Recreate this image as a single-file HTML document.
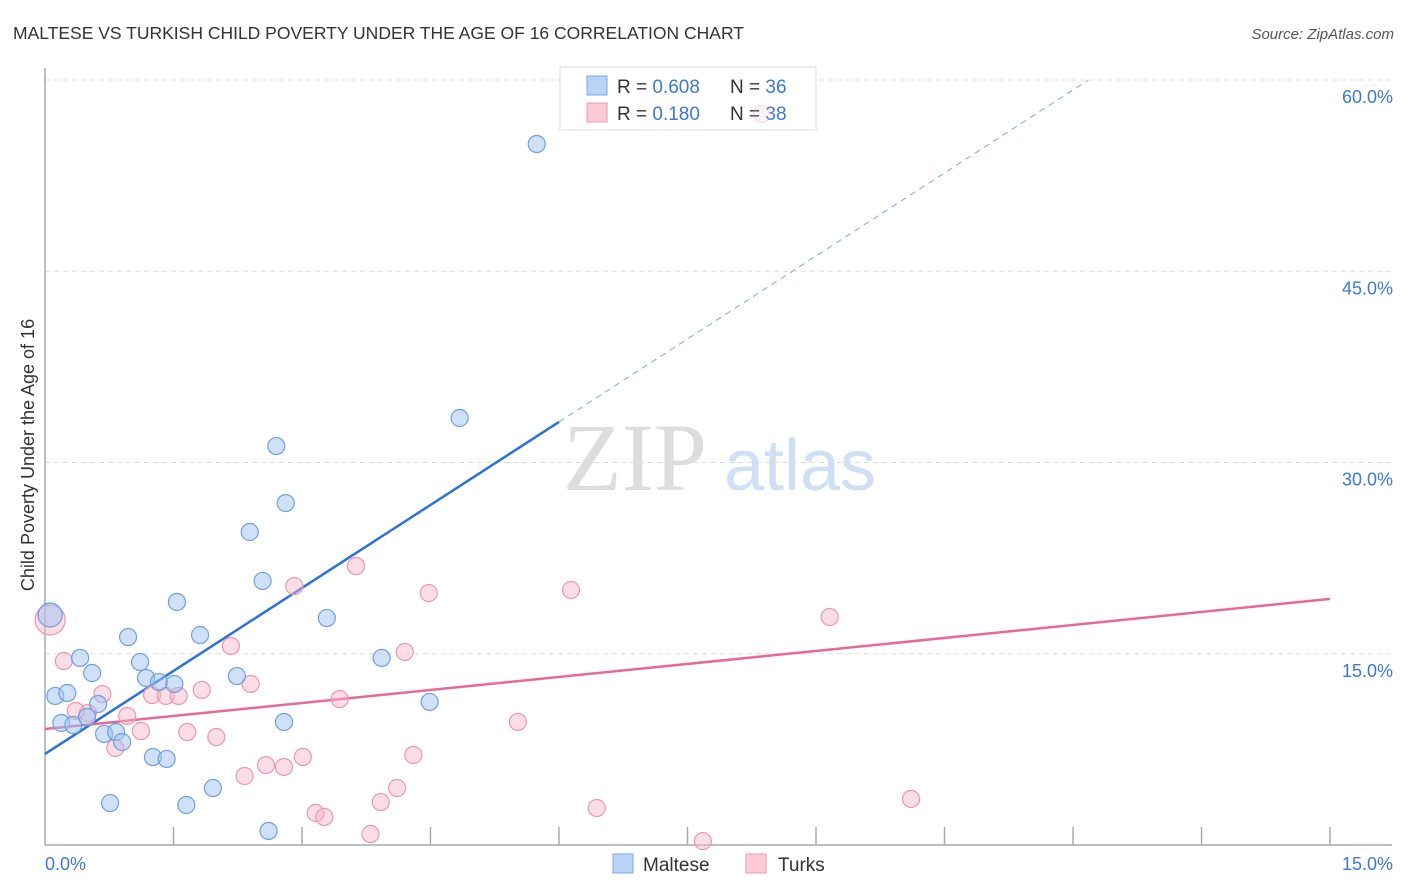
<!DOCTYPE html>
<html><head><meta charset="utf-8">
<style>
body{margin:0;background:#fff;font-family:"Liberation Sans",sans-serif;}
svg{display:block}
</style></head>
<body>
<svg width="1406" height="892" viewBox="0 0 1406 892">
<text x="13" y="39" font-size="17.5" fill="#333">MALTESE VS TURKISH CHILD POVERTY UNDER THE AGE OF 16 CORRELATION CHART</text>
<text x="1394" y="39" font-size="15" fill="#555" font-style="italic" text-anchor="end">Source: ZipAtlas.com</text>
<g>
<text x="635" y="490" font-size="96" fill="#ddd" font-family="Liberation Serif,serif" text-anchor="middle">ZIP</text>
<text x="800" y="490" font-size="72" fill="#cfe0f5" text-anchor="middle">atlas</text>
</g>
<g id="grid"></g>
<g id="axes"></g>
<g id="lines"></g>
<g>
<rect x="560" y="67" width="256" height="63" fill="#fff" stroke="#ddd"/>
<rect x="587" y="76" width="20" height="19" fill="#b8d3f5" stroke="#7aa7e6"/>
<text x="617" y="93" font-size="19" fill="#333">R = <tspan fill="#3c78d8">0.608</tspan></text>
<text x="730" y="93" font-size="19" fill="#333">N = <tspan fill="#3c78d8">36</tspan></text>
<rect x="587" y="103" width="20" height="19" fill="#fbcbd8" stroke="#ee9ab3"/>
<text x="617" y="120" font-size="19" fill="#333">R = <tspan fill="#3c78d8"> 0.180</tspan></text>
<text x="730" y="120" font-size="19" fill="#333">N = <tspan fill="#3c78d8">38</tspan></text>
</g>
<g id="points" opacity="1"></g>
<text transform="translate(34,455) rotate(-90)" font-size="18" fill="#333" text-anchor="middle">Child Poverty Under the Age of 16</text>
<g>
<rect x="613" y="854" width="20" height="19" fill="#b8d3f5" stroke="#7aa7e6"/>
<text x="643" y="871" font-size="19" fill="#333">Maltese</text>
<rect x="746" y="854" width="20" height="19" fill="#fbcbd8" stroke="#ee9ab3"/>
<text x="778" y="871" font-size="19" fill="#333">Turks</text>
</g>
</svg>
<script>
const yTicks=[15,30,45,60];
const yTickLabels=["15.0%","30.0%","45.0%","60.0%"];
const xTickCount=[0,1.5,3,4.5,6,7.5,9,10.5,12,13.5,15];
const xLabels=["0.0%","15.0%"];
const malteseX=[0.06,0.12,0.26,0.19,0.33,0.41,0.55,0.49,0.62,0.69,0.83,0.90,0.76,0.97,1.11,1.18,1.26,1.33,1.42,1.51,1.54,1.65,1.81,1.96,2.24,2.39,2.54,2.61,2.70,2.79,2.81,3.29,3.93,4.49,4.84,5.74];
const malteseY=[18.04,11.69,11.92,9.57,9.41,14.67,13.49,10.04,11.06,8.71,8.86,8.08,3.29,16.31,14.35,13.10,6.90,12.78,6.75,12.63,19.06,3.14,16.47,4.47,13.25,24.55,20.71,1.10,31.29,9.65,26.82,17.80,14.67,11.22,33.49,54.98];
const turksX=[0.06,0.22,0.50,0.67,0.36,0.82,0.96,1.12,1.25,1.41,1.56,1.66,1.83,2.00,2.17,2.33,2.40,2.58,2.79,2.91,3.01,3.16,3.26,3.44,3.63,3.80,3.92,4.11,4.20,4.30,4.48,5.52,6.14,6.44,7.68,8.37,9.16,10.11];
const turksY=[17.65,14.43,10.35,11.84,10.51,7.61,10.12,8.94,11.76,11.69,11.69,8.86,12.16,8.47,15.61,5.41,12.63,6.27,6.12,20.31,6.90,2.51,2.20,11.45,21.88,0.86,3.37,4.47,15.14,7.06,19.76,9.65,20.00,2.90,0.31,57.33,17.88,3.61];
const malteseFit=[7.14,4.34];
const turksFit=[9.1,0.68];
const NS="http://www.w3.org/2000/svg";
const X0=45,X1=1330,Y0=845,Y60=80;
function sx(v){return X0+v/15*(X1-X0);}
function sy(v){return Y0-v/60*(Y0-Y60);}
function mk(t,a,p){const e=document.createElementNS(NS,t);for(const k in a)e.setAttribute(k,a[k]);p.appendChild(e);return e;}
const grid=document.getElementById('grid'),axes=document.getElementById('axes'),lines=document.getElementById('lines'),pts=document.getElementById('points');
yTicks.forEach((v,i)=>{
 const l=mk('line',{x1:X0,x2:1392,y1:sy(v),y2:sy(v),stroke:'#ddd','stroke-dasharray':'5,4'},grid);
 
 
 const t=mk('text',{x:1393,y:sy(v)+23,'font-size':18,fill:'#3c78d8','text-anchor':'end'},grid);
 t.textContent=yTickLabels[i];
 
 
});
const ax=mk('path',{d:`M${X0} 68 V${Y0} H1392`,fill:'none',stroke:'#aaa','stroke-width':1.5},axes);


xTickCount.forEach(v=>{
 if(v===0)return;
 const t=mk('line',{x1:sx(v),x2:sx(v),y1:Y0,y2:Y0-18,stroke:'#aaa','stroke-width':1.5},axes);
 
 
});
let tl=mk('text',{x:X0,y:870,'font-size':18,fill:'#3c78d8'},axes);tl.textContent=xLabels[0];


tl=mk('text',{x:1393,y:870,'font-size':18,fill:'#3c78d8','text-anchor':'end'},axes);tl.textContent=xLabels[1];


function drawPts(xs,ys,fill,stroke,name){
 xs.forEach((x,i)=>{
  const r=i===0?(name==='turks'?15:12):8.5;
  const c=mk('circle',{cx:sx(x),cy:sy(ys[i]),r:r,fill:fill,stroke:stroke,'stroke-width':1.2},pts);
  if(ys[i]>56)c.setAttribute('opacity','0.35');
  
  
 });
}
drawPts(turksX,turksY,'rgba(247,180,200,0.45)','#eb97b0','turks');
drawPts(malteseX,malteseY,'rgba(160,195,240,0.5)','#6f9fe0','maltese');
const bEnd=6.0,bDash=(60-malteseFit[0])/malteseFit[1];
let l=mk('line',{x1:sx(0),y1:sy(malteseFit[0]),x2:sx(bEnd),y2:sy(malteseFit[0]+malteseFit[1]*bEnd),stroke:'#2a72d8','stroke-width':2.5},lines);


l=mk('line',{x1:sx(bEnd),y1:sy(malteseFit[0]+malteseFit[1]*bEnd),x2:sx(bDash),y2:sy(60),stroke:'#8fb3e8','stroke-width':1.2,'stroke-dasharray':'6,5'},lines);


l=mk('line',{x1:sx(0),y1:sy(turksFit[0]),x2:sx(15),y2:sy(turksFit[0]+turksFit[1]*15),stroke:'#e8689a','stroke-width':2.5},lines);


</script>
</body></html>
